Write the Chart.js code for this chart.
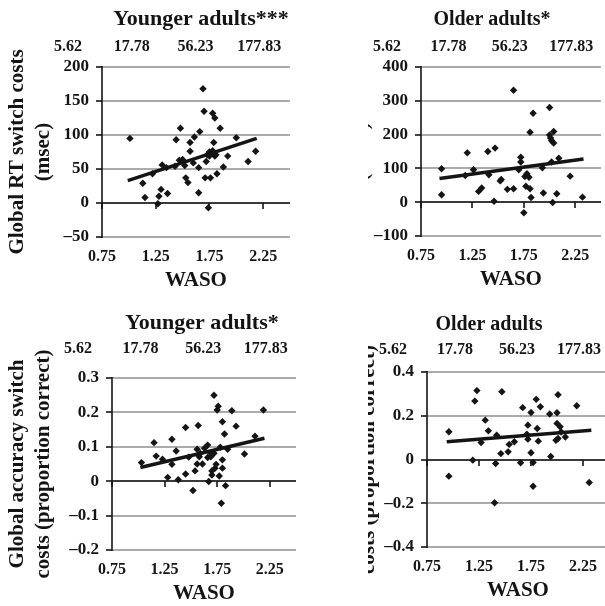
<!DOCTYPE html>
<html><head><meta charset="utf-8">
<script src="https://cdn.jsdelivr.net/npm/chart.js@4.4.1/dist/chart.umd.min.js"></script>
<style>
html,body{margin:0;padding:0;overflow:hidden;background:#fff;width:605px;height:606px;}
.p{position:absolute;overflow:hidden;}
.p canvas{position:absolute;top:0;}
</style></head><body>
<div class="p" style="left:0;top:0;width:300px;height:303px"><canvas id="c1" width="300" height="303" style="left:0"></canvas></div>
<div class="p" style="left:368px;top:0;width:237px;height:303px"><canvas id="c2" width="286" height="303" style="left:-49px"></canvas></div>
<div class="p" style="left:0;top:303px;width:300px;height:303px"><canvas id="c3" width="300" height="303" style="left:0"></canvas></div>
<div class="p" style="left:368px;top:303px;width:237px;height:303px"><canvas id="c4" width="288" height="303" style="left:-43px"></canvas></div>
<script>
// ---- data ----
const wasoTicks = [0.75, 1.25, 1.75, 2.25];
const topTickLabels = ['5.62', '17.78', '56.23', '177.83'];

// Younger adults, RT
const yRtWaso = [1.01,1.13,1.15,1.27,1.28,1.30,1.36,1.31,1.22,1.35,1.43,1.44,1.48,1.50,1.52,1.53,1.55,1.57,1.57,1.61,1.60,1.65,1.66,1.65,1.69,1.70,1.71,1.72,1.73,1.74,1.76,1.77,1.78,1.80,1.79,1.80,1.81,1.82,1.85,1.88,1.92,2.00,2.11,2.18,1.75,1.78,1.75,1.47];
const yRtCost = [95,29,8,-1,10,20,14,56,43,52,54,93,110,64,55,37,30,76,89,97,59,52,105,15,168,135,37,61,71,-7,37,74,132,125,89,69,71,43,110,53,69,96,61,76,69,77,75,63];
const yRtTrendX = [0.99, 2.19];
const yRtTrendY = [33, 95];
const yRtTicks = [-50, 0, 50, 100, 150, 200];

// Older adults, RT
const oRtWaso = [0.95,0.95,1.18,1.20,1.26,1.31,1.34,1.40,1.41,1.46,1.47,1.52,1.53,1.59,1.65,1.65,1.72,1.72,1.70,1.75,1.76,1.77,1.78,1.80,1.81,1.81,1.82,1.84,1.93,1.94,2.00,2.00,2.01,2.02,2.04,2.04,2.02,2.03,2.07,2.09,2.20,2.32];
const oRtCost = [22,99,79,146,96,32,42,150,81,3,160,63,67,38,331,40,133,119,96,-31,76,47,84,74,40,207,14,263,102,27,280,199,190,182,209,175,119,-1,25,130,77,15];
const oRtTrendX = [0.93, 2.33];
const oRtTrendY = [70, 128];
const oRtTicks = [-100, 0, 100, 200, 300, 400];

// Younger adults, accuracy
const yAccWaso = [1.03,1.15,1.17,1.23,1.28,1.32,1.32,1.36,1.38,1.45,1.45,1.48,1.52,1.54,1.56,1.57,1.56,1.58,1.61,1.63,1.66,1.66,1.67,1.69,1.70,1.70,1.72,1.73,1.74,1.75,1.76,1.77,1.78,1.80,1.80,1.80,1.79,1.82,1.83,1.85,1.89,1.93,2.01,2.11,2.19,1.69,1.72,1.59];
const yAccCost = [0.054,0.112,0.073,0.064,0.011,0.122,0.049,0.088,0.004,0.156,0.021,0.070,-0.027,0.030,0.093,0.162,0.050,0.071,0.050,0.096,0.105,0.069,-0.001,0.081,0.030,0.018,0.250,0.038,0.049,0.207,0.218,0.015,0.099,0.173,0.062,0.038,-0.064,0.137,-0.013,0.093,0.205,0.160,0.079,0.131,0.207,0.071,0.081,0.081];
const yAccTrendX = [1.02, 2.20];
const yAccTrendY = [0.040, 0.125];
const yAccTicks = [-0.2, -0.1, 0, 0.1, 0.2, 0.3];

// Older adults, accuracy
const oAccWaso = [0.96,0.96,1.19,1.21,1.23,1.27,1.31,1.34,1.40,1.41,1.42,1.47,1.46,1.53,1.54,1.59,1.65,1.67,1.71,1.72,1.72,1.75,1.75,1.77,1.77,1.80,1.81,1.82,1.84,1.93,2.00,2.01,2.19,2.31,2.00,2.03,1.99,2.01,2.08,2.04,1.94];
const oAccCost = [0.127,-0.076,-0.003,0.267,0.315,0.078,0.180,0.131,-0.198,-0.018,0.111,0.310,0.027,0.035,0.069,0.081,-0.015,0.237,0.116,0.157,0.093,0.215,0.031,-0.014,-0.122,0.275,0.142,0.084,0.241,0.208,0.214,0.296,0.246,-0.105,0.165,0.150,0.088,0.096,0.103,0.126,0.014];
const oAccTrendX = [0.94, 2.33];
const oAccTrendY = [0.081, 0.134];
const oAccTicks = [-0.4, -0.2, 0, 0.2, 0.4];

// ---- style ----
const FAMILY = "'Liberation Serif', 'Times New Roman', serif";
const INK = '#141414';
const GRID = '#ababab';
Chart.defaults.font.family = FAMILY;
Chart.defaults.font.weight = 'bold';
Chart.defaults.color = INK;

// horizontal grid, axis lines and tick marks, positioned by the chart's own scales
const panelGrid = {
  id: 'panelGrid',
  beforeDatasetsDraw(chart) {
    const {ctx, chartArea: ca, scales} = chart;
    const y = scales.y, x = scales.x;
    const L = Math.round(ca.left);
    ctx.save();
    y.ticks.forEach(t => {
      const py = Math.round(y.getPixelForValue(t.value));
      ctx.strokeStyle = GRID; ctx.lineWidth = 2;
      ctx.beginPath(); ctx.moveTo(L, py); ctx.lineTo(ca.right, py); ctx.stroke();
      ctx.strokeStyle = INK; ctx.lineWidth = 1.6;
      ctx.beginPath(); ctx.moveTo(L - 6, py); ctx.lineTo(L, py); ctx.stroke();
    });
    const p0 = Math.round(y.getPixelForValue(0));
    ctx.strokeStyle = INK; ctx.lineWidth = 1.6;
    ctx.beginPath(); ctx.moveTo(L, p0); ctx.lineTo(ca.right, p0); ctx.stroke();
    x.ticks.forEach(t => {
      const px = Math.round(x.getPixelForValue(t.value));
      ctx.beginPath(); ctx.moveTo(px, p0); ctx.lineTo(px, p0 + 6); ctx.stroke();
    });
    ctx.beginPath(); ctx.moveTo(L, Math.round(ca.top) - 1); ctx.lineTo(L, Math.round(ca.bottom) + 1); ctx.stroke();
    ctx.restore();
  }
};

// panel title and the upper (minutes) labels
const panelHeader = {
  id: 'panelHeader',
  afterDraw(chart, args, opts) {
    const {ctx, chartArea, scales} = chart;
    ctx.save();
    ctx.fillStyle = INK;
    ctx.textAlign = 'center';
    ctx.textBaseline = 'alphabetic';
    ctx.font = 'bold ' + opts.titleSize + 'px ' + FAMILY;
    ctx.fillText(opts.title, (chartArea.left + chartArea.right) / 2 + opts.titleShift, opts.titleBase);
    ctx.font = 'bold 16px ' + FAMILY;
    const x = scales.x;
    const a = x.getPixelForValue(wasoTicks[0]) - 34;
    const b = x.getPixelForValue(wasoTicks[wasoTicks.length - 1]) - 4;
    opts.labels.forEach((t, i, arr) => ctx.fillText(t, a + (b - a) * i / (arr.length - 1), opts.labelBase));
    ctx.restore();
  }
};

function fmtY(v) { return v < 0 ? '\u2013' + String(Math.abs(v)) : String(v); }

function panel(id, o) {
  const pts = o.xs.map((v, i) => ({x: v, y: o.ys[i]}));
  const trend = o.tx.map((v, i) => ({x: v, y: o.ty[i]}));
  const setTicks = arr => s => { s.ticks = arr.map(v => ({value: v})); };
  new Chart(document.getElementById(id), {
    type: 'scatter',
    data: {datasets: [
      {data: pts, pointStyle: 'rectRot', pointRadius: 3.7, pointBackgroundColor: INK, pointBorderWidth: 0, order: 2},
      {type: 'line', data: trend, borderColor: INK, borderWidth: 3.5, pointRadius: 0, fill: false, order: 1}
    ]},
    plugins: [panelGrid, panelHeader],
    options: {
      responsive: false, animation: false, events: [],
      layout: {padding: {top: o.padTop, right: o.padRight, left: 0, bottom: 0}},
      plugins: {
        legend: {display: false}, tooltip: {enabled: false},
        panelHeader: {title: o.title, titleSize: o.titleSize, titleShift: o.titleShift, titleBase: o.titleBase, labels: topTickLabels, labelBase: o.labelBase}
      },
      scales: {
        x: {
          type: 'linear', position: 'bottom', min: 0.75, max: 2.5,
          afterBuildTicks: setTicks(wasoTicks),
          afterFit: s => { s.height = o.bottomH; },
          grid: {display: false, drawTicks: false}, border: {display: false},
          ticks: {padding: 10, font: {size: 16, weight: 'bold'}, color: INK, callback: v => Number(v).toFixed(2)},
          title: {display: true, text: 'WASO', color: INK, font: {size: 21, weight: 'bold'}, padding: {top: 0, bottom: Math.max(0, o.bottomH - 44 - 12.6)}}
        },
        y: {
          type: 'linear', min: o.yt[0], max: o.yt[o.yt.length - 1],
          afterBuildTicks: setTicks(o.yt),
          afterFit: s => { s.width = o.yW; },
          grid: {display: false, drawTicks: false},
          border: {display: false},
          ticks: {padding: 13, font: {size: 17, weight: 'bold'}, color: INK, callback: fmtY},
          title: {display: true, text: o.ytitle, color: INK, font: {size: 21, weight: 'bold', lineHeight: 1.24}, padding: {top: 5, bottom: 0}}
        }
      }
    }
  });
}

const rtTitle = ['Global RT switch costs', '(msec)'];
const accTitle = ['Global accuracy switch', 'costs (proportion correct)'];

panel('c1', {xs: yRtWaso, ys: yRtCost, tx: yRtTrendX, ty: yRtTrendY, yt: yRtTicks, ytitle: rtTitle,
  title: 'Younger adults***', titleSize: 22, titleShift: 5, titleBase: 25, labelBase: 51,
  padTop: 67, padRight: 10, bottomH: 66, yW: 102});
panel('c2', {xs: oRtWaso, ys: oRtCost, tx: oRtTrendX, ty: oRtTrendY, yt: oRtTicks, ytitle: rtTitle,
  title: 'Older adults*', titleSize: 20, titleShift: -19, titleBase: 25, labelBase: 51,
  padTop: 67, padRight: 0, bottomH: 67, yW: 102});
panel('c3', {xs: yAccWaso, ys: yAccCost, tx: yAccTrendX, ty: yAccTrendY, yt: yAccTicks, ytitle: accTitle,
  title: 'Younger adults*', titleSize: 22, titleShift: -2, titleBase: 26, labelBase: 50,
  padTop: 75, padRight: 3, bottomH: 56, yW: 112});
panel('c4', {xs: oAccWaso, ys: oAccCost, tx: oAccTrendX, ty: oAccTrendY, yt: oAccTicks, ytitle: accTitle,
  title: 'Older adults', titleSize: 20, titleShift: -29, titleBase: 27, labelBase: 51,
  padTop: 69, padRight: 0, bottomH: 59, yW: 102});
</script>
</body></html>
